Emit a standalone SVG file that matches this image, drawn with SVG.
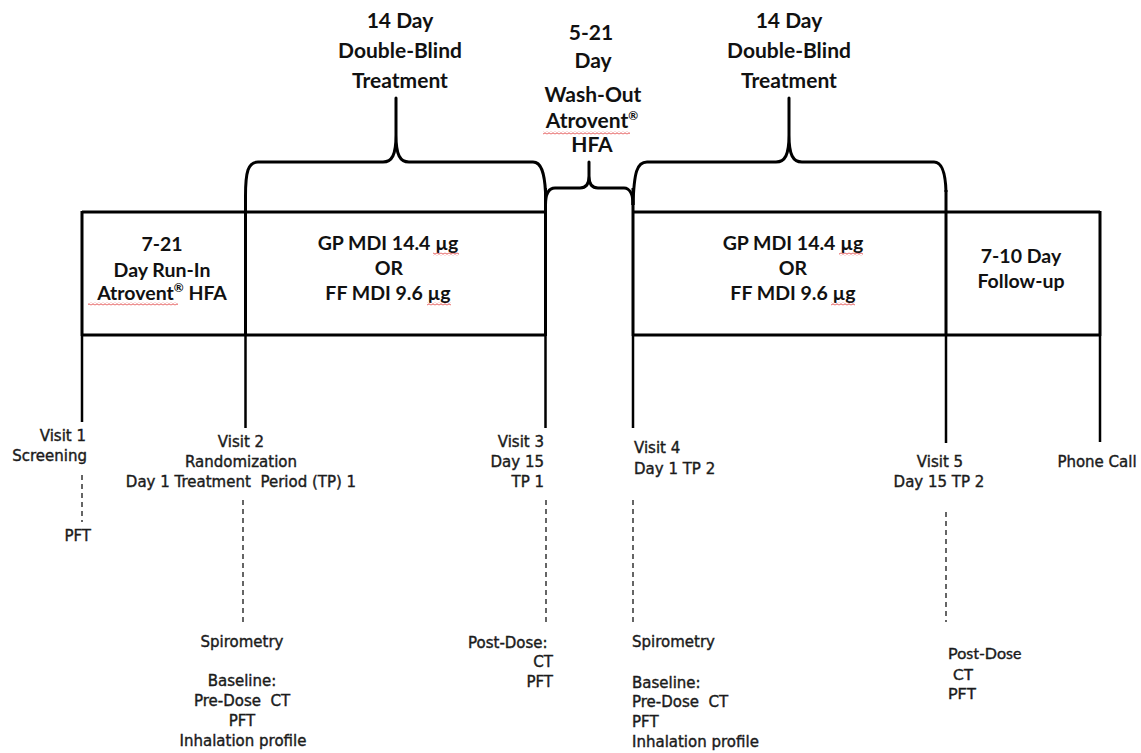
<svg xmlns="http://www.w3.org/2000/svg" width="1141" height="753" viewBox="0 0 1141 753">
<style>
.hd{font-family:Lato,"Liberation Sans",sans-serif;font-weight:700;font-size:21px;fill:#111;text-anchor:middle}
.bx{font-family:Lato,"Liberation Sans",sans-serif;font-weight:700;font-size:19.5px;fill:#111;text-anchor:middle}
.lb{font-family:"DejaVu Sans",sans-serif;font-size:15px;fill:#1b1b1b;stroke:#1b1b1b;stroke-width:0.4}
.cl{font-family:Lato,"Liberation Sans",sans-serif;font-size:16px;fill:#1b1b1b;stroke:#1b1b1b;stroke-width:0.4}
.m{text-anchor:middle}.e{text-anchor:end}
.ln{fill:none;stroke:#000;stroke-width:3;stroke-linejoin:round;stroke-linecap:butt}
.vl{fill:none;stroke:#000;stroke-width:2.5}
.ds{fill:none;stroke:#333;stroke-width:1.5;stroke-dasharray:5 4}
.sup{font-size:12px}
</style>
<defs>
<pattern id="wave" patternUnits="userSpaceOnUse" width="4" height="3">
<path d="M0,1.5 Q1,0 2,1.5 T4,1.5" fill="none" stroke="#e03c3c" stroke-width="0.9"/>
</pattern>
</defs>

<g id="connectors">
<path class="ln" d="M245.5,211 L245.5,196 C245.5,172 248,162 258,162 L383,162 C392,162 396,155 396,135 L396,98 L396,135 C396,155 400,162 409,162 L533,162 C541,162 544.5,172 545.5,192"/>
<path class="ln" d="M545.5,205 C545.5,195 548,188 555,188 L580,188 C586,188 589,184 589,176 L589,162 L589,176 C589,184 592,188 598,188 L624,188 C630,188 633,195 633,205"/>
<path class="ln" d="M633,205 C634,172 637,162 647,162 L776,162 C785,162 789,155 789,135 L789,98 L789,135 C789,155 793,162 802,162 L934,162 C942,162 945.5,172 946,192"/>
<path class="ln" d="M82,212 L545.5,212 M633,212 L1100,212 M82,335 L545.5,335 M633,335 L1100,335"/>
<path class="ln" d="M82,211 L82,336 M245.5,196 L245.5,336 M545.5,188 L545.5,336 M633,188 L633,336 M946,190 L946,336 M1100,211 L1100,336"/>
<path class="vl" d="M82,336 L82,422 M245.5,336 L245.5,428 M545.5,336 L545.5,428 M633,336 L633,428 M946,336 L946,443 M1100,336 L1100,442"/>
<path class="ds" d="M82,475 L82,522 M243,500 L243,625 M546,500 L546,625 M633,500 L633,624 M946,512 L946,622"/>
</g>

<g id="header-tp1">
<text class="hd" x="400" y="28">14 Day</text>
<text class="hd" x="400" y="58">Double-Blind</text>
<text class="hd" x="400" y="88">Treatment</text>
</g>
<g id="header-washout">
<text class="hd" x="591" y="40">5-21</text>
<text class="hd" x="593" y="68">Day</text>
<text class="hd" x="593" y="102">Wash-Out</text>
<text class="hd" x="592" y="128">Atrovent<tspan class="sup" dy="-8">®</tspan></text>
<text class="hd" x="592" y="152">HFA</text>
<rect x="543" y="131.5" width="87" height="3" fill="url(#wave)"/>
</g>
<g id="header-tp2">
<text class="hd" x="789" y="28">14 Day</text>
<text class="hd" x="789" y="58">Double-Blind</text>
<text class="hd" x="789" y="88">Treatment</text>
</g>

<g id="box-runin">
<text class="bx" x="162" y="251">7-21</text>
<text class="bx" x="162" y="277">Day Run-In</text>
<text class="bx" x="162" y="300">Atrovent<tspan class="sup" dy="-8">®</tspan><tspan dy="8"> HFA</tspan></text>
<rect x="88" y="302.5" width="90" height="3" fill="url(#wave)"/>
</g>
<g id="box-tp1">
<text class="bx" x="388" y="250">GP MDI 14.4 µg</text>
<text class="bx" x="389" y="275">OR</text>
<text class="bx" x="388" y="300">FF MDI 9.6 µg</text>
<rect x="433" y="252.5" width="26" height="3" fill="url(#wave)"/>
<rect x="427" y="302.5" width="24" height="3" fill="url(#wave)"/>
</g>
<g id="box-tp2">
<text class="bx" x="793" y="250">GP MDI 14.4 µg</text>
<text class="bx" x="793" y="275">OR</text>
<text class="bx" x="793" y="300">FF MDI 9.6 µg</text>
<rect x="839" y="252.5" width="24" height="3" fill="url(#wave)"/>
<rect x="831" y="302.5" width="24" height="3" fill="url(#wave)"/>
</g>
<g id="box-followup">
<text class="bx" x="1021" y="263">7-10 Day</text>
<text class="bx" x="1021" y="288">Follow-up</text>
</g>

<g id="visit1">
<text class="lb e" x="86" y="441">Visit 1</text>
<text class="lb e" x="87" y="461">Screening</text>
<text class="lb e" x="91" y="541">PFT</text>
</g>
<g id="visit2">
<text class="lb m" x="241" y="447">Visit 2</text>
<text class="lb m" x="241" y="467">Randomization</text>
<text class="lb m" x="241" y="487">Day 1 Treatment&#160; Period (TP) 1</text>
<text class="lb m" x="242" y="647">Spirometry</text>
<text class="lb m" x="242" y="686">Baseline:</text>
<text class="lb m" x="242" y="706">Pre-Dose&#160; CT</text>
<text class="lb m" x="242" y="726">PFT</text>
<text class="lb m" x="243" y="746">Inhalation profile</text>
</g>
<g id="visit3">
<text class="lb e" x="544" y="447">Visit 3</text>
<text class="lb e" x="544" y="467">Day 15</text>
<text class="lb e" x="544" y="487">TP 1</text>
<text class="lb" x="468" y="648">Post-Dose:</text>
<text class="lb e" x="553" y="667">CT</text>
<text class="lb e" x="553" y="687">PFT</text>
</g>
<g id="visit4">
<text class="lb" x="634" y="453">Visit 4</text>
<text class="lb" x="634" y="474">Day 1 TP 2</text>
<text class="lb" x="632" y="647">Spirometry</text>
<text class="lb" x="632" y="688">Baseline:</text>
<text class="lb" x="632" y="707">Pre-Dose&#160; CT</text>
<text class="lb" x="632" y="727">PFT</text>
<text class="lb" x="632" y="747">Inhalation profile</text>
</g>
<g id="visit5">
<text class="lb m" x="940" y="467">Visit 5</text>
<text class="lb m" x="939" y="487">Day 15 TP 2</text>
<text class="cl" x="948" y="659">Post-Dose</text>
<text class="cl" x="953" y="680">CT</text>
<text class="cl" x="948" y="699">PFT</text>
</g>
<g id="phone">
<text class="lb m" x="1097" y="467">Phone Call</text>
</g>
</svg>
